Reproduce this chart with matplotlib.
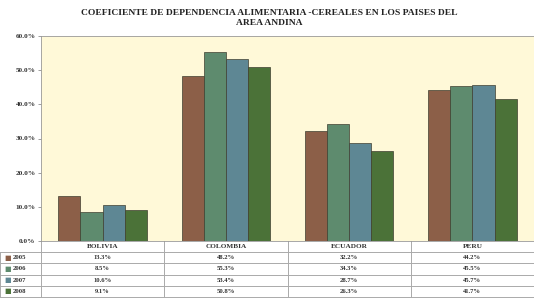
import numpy as np
import matplotlib.pyplot as plt

countries = ['BOLIVIA', 'COLOMBIA', 'ECUADOR', 'PERU']
years = ['2005', '2006', '2007', '2008']
v2005 = [13.3, 48.2, 32.2, 44.2]
v2006 = [8.5, 55.3, 34.3, 45.5]
v2007 = [10.6, 53.4, 28.7, 45.7]
v2008 = [9.1, 50.8, 26.3, 41.7]
series = [v2005, v2006, v2007, v2008]
colors = ['#8c5f48', '#5e8b6e', '#5e8794', '#4b7238']

plt.rcParams['font.family'] = ['Liberation Serif', 'DejaVu Serif']

fig = plt.figure(figsize=(5.34, 3.02), dpi=100)
ax = fig.add_axes([41 / 534, 61 / 302, 493 / 534, 205 / 302])
ax.set_facecolor('#fff9d8')

x = np.arange(len(countries))
w = 0.18
for i, vals in enumerate(series):
    ax.bar(x + (i - 1.5) * w, vals, w, color=colors[i], edgecolor='#3f3f30', linewidth=0.5)

ax.set_xlim(-0.5, 3.5)
ax.set_ylim(0, 60)
ax.set_yticks(np.arange(0, 61, 10))
ax.set_yticklabels([f'{t:.1f}%' for t in range(0, 61, 10)], fontsize=5.2, fontweight='bold')
ax.tick_params(axis='y', length=2, width=0.5, pad=2, colors='#777777', labelcolor='#333333')
ax.set_xticks([])
for s in ['left', 'bottom', 'top', 'right']:
    ax.spines[s].set_color('#999999')
    ax.spines[s].set_linewidth(0.6)
ax.spines['right'].set_visible(False)

fig.text(0.505, 0.97, 'COEFICIENTE DE DEPENDENCIA ALIMENTARIA -CEREALES EN LOS PAISES DEL\nAREA ANDINA',
         ha='center', va='top', fontsize=6.8, fontweight='bold', linespacing=1.25, color='#222222')

# data table under the bars (drawn by hand, axes coords)
lab_w = 41 / 493
tab_h = 56 / 205
row_h = tab_h / 5
col_edges = [0, 0.25, 0.5, 0.75, 1.0]
line_kw = dict(color='#aaaaaa', lw=0.7, transform=ax.transAxes, clip_on=False)

for k in range(1, 6):
    yy = -k * row_h
    ax.plot([-lab_w, 1], [yy, yy], **line_kw)
ax.plot([-lab_w, -lab_w], [-row_h, -tab_h], **line_kw)
for xe in col_edges:
    ax.plot([xe, xe], [0, -tab_h], **line_kw)

txt_kw = dict(fontsize=4.8, fontweight='bold', color='#333333', transform=ax.transAxes,
              ha='center', va='center')
for j, name in enumerate(countries):
    ax.text(j * 0.25 + 0.125, -0.5 * row_h, name, **{**txt_kw, 'fontsize': 5.2})
for i, vals in enumerate(series):
    yc = -(i + 1.5) * row_h
    ax.text(-lab_w + 4 / 493, yc, '\u25a0', color=colors[i], fontsize=5, ha='left', va='center',
            transform=ax.transAxes, family='DejaVu Sans')
    ax.text(-lab_w + 13 / 493, yc, years[i], **{**txt_kw, 'ha': 'left'})
    for j, v in enumerate(vals):
        ax.text(j * 0.25 + 0.125, yc, f'{v:.1f}%', **txt_kw)

fig.savefig('out.png', dpi=100)
